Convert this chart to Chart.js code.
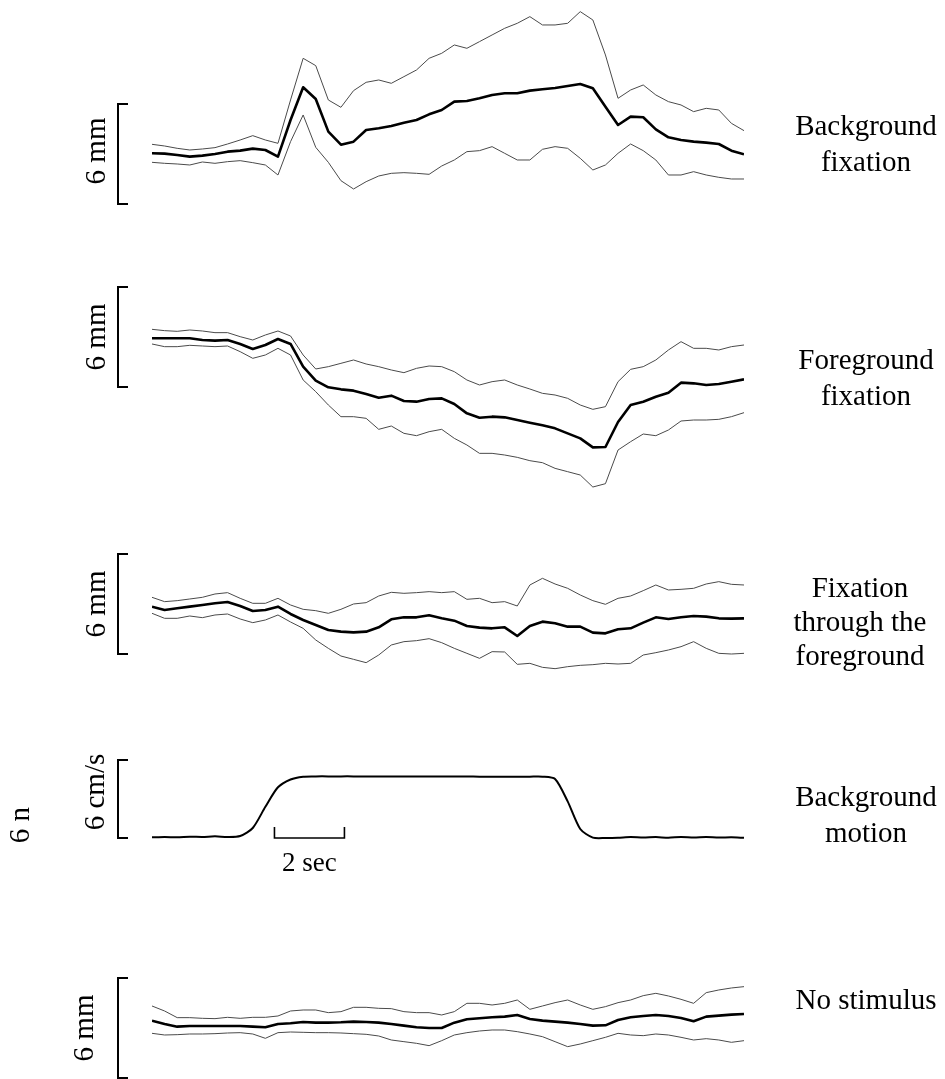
<!DOCTYPE html>
<html><head><meta charset="utf-8">
<script src="https://cdn.jsdelivr.net/npm/chart.js@4"></script>
<style>html,body{margin:0;padding:0;background:#fff;}#wrap{position:relative;width:945px;height:1079px;}</style>
</head><body><div id="wrap"><canvas id="c" width="945" height="1079"></canvas></div>
<script>
// time of each sample (s)
const timeSec = [0,0.36,0.72,1.08,1.44,1.8,2.16,2.52,2.88,3.24,3.6,3.96,4.32,4.68,5.04,5.4,5.76,6.12,6.48,6.84,7.2,7.56,7.92,8.28,8.64,9,9.36,9.72,10.08,10.44,10.8,11.16,11.52,11.88,12.24,12.6,12.96,13.32,13.68,14.04,14.4,14.76,15.12,15.48,15.84,16.2,16.56,16.92];

// Background fixation (mm): mean and ±SD
const bgFixUpper = [3.58,3.48,3.34,3.24,3.30,3.38,3.60,3.84,4.10,3.84,3.64,6.24,8.74,8.30,6.24,5.80,6.80,7.30,7.44,7.24,7.64,8.04,8.74,9.04,9.54,9.34,9.74,10.14,10.54,10.84,11.24,10.74,10.74,10.84,11.54,11.04,8.94,6.34,6.84,7.14,6.54,6.14,5.94,5.54,5.74,5.64,4.84,4.40];
const bgFixMean = [3.04,3.02,2.94,2.84,2.90,3.00,3.14,3.20,3.32,3.24,2.84,5.04,7.00,6.30,4.34,3.56,3.74,4.44,4.54,4.68,4.88,5.04,5.38,5.64,6.14,6.18,6.34,6.54,6.64,6.64,6.80,6.88,6.96,7.08,7.20,6.94,5.84,4.74,5.24,5.20,4.48,4.00,3.84,3.74,3.68,3.60,3.20,2.98];
const bgFixLower = [2.50,2.44,2.40,2.34,2.52,2.44,2.54,2.60,2.48,2.34,1.74,3.74,5.34,3.40,2.50,1.40,0.90,1.34,1.68,1.84,1.88,1.84,1.78,2.28,2.64,3.14,3.20,3.44,3.04,2.64,2.64,3.28,3.44,3.34,2.74,2.04,2.34,3.04,3.60,3.20,2.64,1.74,1.74,1.94,1.74,1.60,1.50,1.50];

// Foreground fixation (mm)
const fgFixUpper = [3.46,3.38,3.34,3.42,3.36,3.26,3.26,3.02,2.82,3.12,3.36,3.06,1.92,1.08,1.22,1.42,1.62,1.38,1.22,1.02,0.86,1.12,1.26,1.22,0.92,0.42,0.12,0.32,0.42,0.12,-0.12,-0.38,-0.48,-0.68,-1.08,-1.34,-1.18,0.32,1.06,1.22,1.62,2.22,2.72,2.32,2.32,2.22,2.42,2.52];
const fgFixMean = [2.92,2.92,2.92,2.92,2.82,2.78,2.82,2.58,2.28,2.52,2.88,2.58,1.22,0.38,-0.02,-0.14,-0.22,-0.42,-0.64,-0.52,-0.84,-0.88,-0.72,-0.68,-1.02,-1.58,-1.84,-1.78,-1.82,-1.98,-2.14,-2.30,-2.48,-2.78,-3.08,-3.62,-3.60,-2.10,-1.08,-0.88,-0.58,-0.34,0.26,0.22,0.12,0.18,0.32,0.46];
const fgFixLower = [2.58,2.42,2.42,2.50,2.46,2.42,2.46,2.12,1.72,1.92,2.32,1.92,0.42,-0.28,-1.08,-1.78,-1.78,-1.88,-2.54,-2.34,-2.78,-2.92,-2.68,-2.54,-3.08,-3.48,-3.98,-3.98,-4.08,-4.22,-4.42,-4.54,-4.88,-5.08,-5.28,-6.00,-5.80,-3.78,-3.28,-2.82,-2.92,-2.58,-2.04,-1.98,-1.98,-1.94,-1.78,-1.54];

// Fixation through the foreground (mm)
const ftUpper = [3.40,3.14,3.20,3.30,3.40,3.60,3.68,3.34,3.04,3.04,3.34,2.94,2.68,2.60,2.44,2.68,3.00,3.08,3.48,3.70,3.64,3.68,3.74,3.68,3.74,3.28,3.34,3.08,3.14,2.88,4.14,4.54,4.20,3.94,3.54,3.20,2.98,3.34,3.48,3.80,4.14,3.84,3.88,3.94,4.20,4.34,4.18,4.14];
const ftMean = [2.84,2.64,2.74,2.84,2.94,3.04,3.12,2.88,2.58,2.64,2.84,2.40,2.04,1.74,1.44,1.34,1.30,1.34,1.60,2.08,2.20,2.20,2.32,2.14,2.00,1.68,1.58,1.54,1.60,1.08,1.68,1.94,1.84,1.64,1.64,1.28,1.24,1.48,1.54,1.88,2.20,2.10,2.20,2.28,2.24,2.14,2.12,2.14];
const ftLower = [2.44,2.14,2.14,2.28,2.18,2.34,2.40,2.10,1.88,2.04,2.34,1.92,1.54,0.84,0.34,-0.12,-0.32,-0.52,-0.06,0.54,0.74,0.80,0.92,0.68,0.34,0.04,-0.26,0.14,0.12,-0.62,-0.56,-0.80,-0.88,-0.76,-0.68,-0.64,-0.56,-0.60,-0.56,-0.06,0.08,0.24,0.44,0.74,0.34,0.04,0.00,0.04];

// Background motion (cm/s)
const bgMotion = [0.05,0.08,0.05,0.10,0.08,0.13,0.08,0.15,0.77,2.40,3.90,4.50,4.72,4.74,4.74,4.74,4.74,4.73,4.73,4.73,4.73,4.73,4.73,4.73,4.73,4.73,4.72,4.72,4.72,4.72,4.72,4.72,4.54,2.82,0.69,0.03,0.00,0.02,0.08,0.03,0.07,0.02,0.08,0.04,0.07,0.03,0.05,0.01];

// No stimulus (mm)
const nsUpper = [4.32,4.02,3.62,3.62,3.58,3.56,3.64,3.58,3.64,3.64,3.72,4.02,4.08,4.08,3.92,3.98,4.24,4.24,4.18,4.16,3.98,3.92,3.92,3.78,3.98,4.48,4.48,4.38,4.48,4.68,4.12,4.32,4.52,4.68,4.38,4.12,4.28,4.52,4.68,4.94,5.08,4.92,4.72,4.48,5.12,5.28,5.40,5.48];
const nsMean = [3.44,3.24,3.08,3.12,3.12,3.12,3.12,3.12,3.08,3.04,3.24,3.28,3.36,3.32,3.32,3.34,3.38,3.36,3.32,3.24,3.14,3.04,3.00,3.00,3.32,3.52,3.58,3.64,3.68,3.78,3.54,3.44,3.38,3.32,3.24,3.14,3.16,3.48,3.64,3.72,3.78,3.72,3.60,3.40,3.68,3.74,3.80,3.84];
const nsLower = [2.68,2.58,2.60,2.64,2.64,2.66,2.70,2.72,2.64,2.38,2.72,2.76,2.74,2.72,2.72,2.70,2.66,2.62,2.52,2.28,2.18,2.08,1.94,2.24,2.58,2.72,2.82,2.88,2.88,2.78,2.64,2.48,2.18,1.88,2.04,2.24,2.44,2.68,2.58,2.54,2.64,2.58,2.44,2.28,2.36,2.28,2.14,2.24];

// Panel titles and scale-bar labels
const panelTitles = [["Background","fixation"],["Foreground","fixation"],["Fixation","through the","foreground"],["Background","motion"],["No stimulus"]];
const scaleLabels = ["6 mm","6 mm","6 mm","6 cm/s","6 mm"];
const scaleValue = 6;      // height of each vertical scale bar (mm or cm/s)
const timeBar = [3.5, 5.5]; // 2 s horizontal scale bar
const timeBarLabel = "2 sec";

// ---- layout (pixel placement of each stacked panel) ----
const H = 1079;
const layout = [
  {zeroPx:204,  pxPerUnit:16.67, titleX:866, titleY:[135,171],     barLabelX:105, barLabelShift:-3},
  {zeroPx:387,  pxPerUnit:16.67, titleX:866, titleY:[369,405],     barLabelX:105, barLabelShift:0},
  {zeroPx:654,  pxPerUnit:16.67, titleX:860, titleY:[597,631,665], barLabelX:105, barLabelShift:0},
  {zeroPx:838,  pxPerUnit:13.0,  titleX:866, titleY:[806,842],     barLabelX:104, barLabelShift:-7},
  {zeroPx:1078, pxPerUnit:16.67, titleX:866, titleY:[1009],        barLabelX:93,  barLabelShift:0}
];
const series = [
  [bgFixUpper, bgFixMean, bgFixLower],
  [fgFixUpper, fgFixMean, fgFixLower],
  [ftUpper, ftMean, ftLower],
  [null, bgMotion, null],
  [nsUpper, nsMean, nsLower]
];

const FONT = '29px "Liberation Serif", "Times New Roman", serif';
const datasets = [];
const scales = {
  x: {type:'linear', display:false, min:timeSec[0], max:timeSec[timeSec.length-1]}
};
series.forEach((trio, p) => {
  const id = 'y' + p;
  const L = layout[p];
  scales[id] = {type:'linear', display:false, min:(L.zeroPx - H)/L.pxPerUnit, max:L.zeroPx/L.pxPerUnit};
  trio.forEach((arr, k) => {
    if (!arr) return;
    const isMean = k === 1;
    datasets.push({
      data: arr.map((v, i) => ({x: timeSec[i], y: v})),
      yAxisID: id,
      borderColor: isMean ? '#000' : '#4a4a4a',
      borderWidth: isMean ? (p === 3 ? 2 : 2.6) : 1,
      pointRadius: 0,
      tension: p === 3 ? 0.25 : 0,
      borderJoinStyle: 'round',
      fill: false
    });
  });
});

const decor = {
  id: 'decor',
  afterDatasetsDraw(chart) {
    const ctx = chart.ctx;
    ctx.save();
    ctx.strokeStyle = '#000';
    ctx.fillStyle = '#000';
    ctx.font = FONT;
    layout.forEach((L, p) => {
      const ys = chart.scales['y' + p];
      const y0 = ys.getPixelForValue(0), y1 = ys.getPixelForValue(scaleValue);
      // bracket
      ctx.lineWidth = 2;
      ctx.beginPath();
      ctx.moveTo(128, y1); ctx.lineTo(118, y1); ctx.lineTo(118, y0); ctx.lineTo(128, y0);
      ctx.stroke();
      // rotated scale label
      ctx.save();
      ctx.translate(L.barLabelX, (y0 + y1) / 2 + L.barLabelShift);
      ctx.rotate(-Math.PI / 2);
      ctx.textAlign = 'center';
      ctx.textBaseline = 'alphabetic';
      ctx.fillText(scaleLabels[p], 0, 0);
      ctx.restore();
      // right-hand title
      ctx.textAlign = 'center';
      ctx.textBaseline = 'alphabetic';
      panelTitles[p].forEach((t, i) => ctx.fillText(t, L.titleX, L.titleY[i]));
    });
    // stray "6 n" label
    ctx.save();
    ctx.translate(29, 825);
    ctx.rotate(-Math.PI / 2);
    ctx.textAlign = 'center';
    ctx.fillText('6 n', 0, 0);
    ctx.restore();
    // time scale bar under the motion trace
    const xs = chart.scales.x, ym = chart.scales.y3;
    const ty = ym.getPixelForValue(0);
    const xa = xs.getPixelForValue(timeBar[0]), xb = xs.getPixelForValue(timeBar[1]);
    ctx.lineWidth = 1.6;
    ctx.beginPath();
    ctx.moveTo(xa, ty - 11); ctx.lineTo(xa, ty); ctx.lineTo(xb, ty); ctx.lineTo(xb, ty - 11);
    ctx.stroke();
    ctx.textAlign = 'center';
    ctx.font = '27px "Liberation Serif", "Times New Roman", serif';
    ctx.fillText(timeBarLabel, (xa + xb) / 2, ty + 33);
    ctx.restore();
  }
};

new Chart(document.getElementById('c'), {
  type: 'line',
  data: {datasets},
  options: {
    responsive: false,
    animation: false,
    events: [],
    layout: {padding: {left: 152, right: 201, top: 0, bottom: 0}},
    plugins: {legend: {display: false}, tooltip: {enabled: false}},
    scales
  },
  plugins: [decor]
});
</script></body></html>
